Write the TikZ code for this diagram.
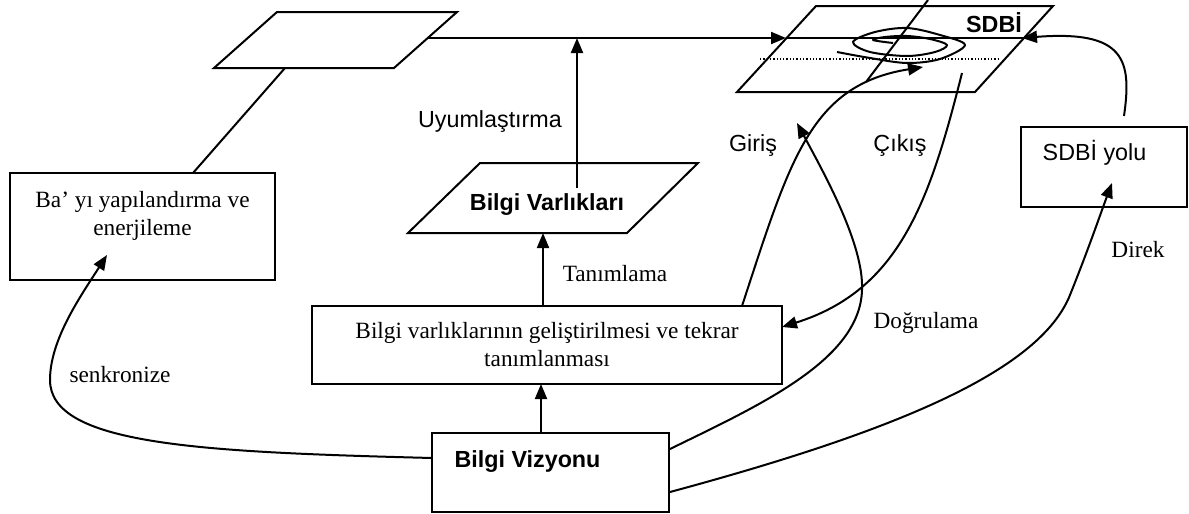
\documentclass[tikz,border=0pt]{standalone}
\usepackage{fontspec}
\setmainfont{Liberation Serif}
\newfontfamily\arialfont{Liberation Sans}
\usetikzlibrary{arrows.meta,calc}

\begin{document}
\begin{tikzpicture}[x=1pt,y=-1pt,
  every node/.style={font=\fontsize{23.3}{28}\selectfont, inner sep=0pt},
  box/.style={draw, line width=2pt, rectangle, inner sep=0pt},
  sans/.style={font=\fontsize{23.3}{28}\selectfont\arialfont},
  sansbold/.style={font=\fontsize{23.3}{28}\selectfont\arialfont\bfseries},
  link/.style={line width=2pt},
  flow/.style={line width=2pt, -{Triangle[length=15pt,width=12pt]}},
  plane/.style={draw, line width=2pt, line join=miter},
]
\useasboundingbox (0,0) rectangle (1189,514);

% ---------- boxes ----------
\node[box, minimum width=265pt, minimum height=107pt] (ba) at (142.5,226.5) {};
\node[align=center] (ba-t) at (142.5,215.5) {Ba’ yı yapılandırma ve\\enerjileme};

\node[box, minimum width=470pt, minimum height=78pt, align=center] (mid) at (547,345)
  {Bilgi varlıklarının geliştirilmesi ve tekrar\\tanımlanması};

\node[box, minimum width=237pt, minimum height=79pt] (vis) at (550.5,472.5) {};
\node[sansbold, anchor=base] (vis-t) at (527.5,467) {Bilgi Vizyonu};

\node[box, minimum width=166pt, minimum height=80pt] (yol) at (1104,167) {};
\node[sans, anchor=base] (yol-t) at (1094.5,160) {SDBİ yolu};

% ---------- planes ----------
\coordinate (pa1) at (277,12);  \coordinate (pa2) at (457,12);
\coordinate (pa3) at (394,68);  \coordinate (pa4) at (214,68);
\draw[plane] (pa1)--(pa2)--(pa3)--(pa4)--cycle;

\coordinate (pb1) at (480,163); \coordinate (pb2) at (698,163);
\coordinate (pb3) at (627,233); \coordinate (pb4) at (408,233);
\draw[plane] (pb1)--(pb2)--(pb3)--(pb4)--cycle;
\node[sansbold, anchor=base] (bv-t) at (547,210) {Bilgi Varlıkları};

\coordinate (pc1) at (816,6);   \coordinate (pc2) at (1053,6);
\coordinate (pc3) at (975,92);  \coordinate (pc4) at (737,92);
\draw[plane] (pc1)--(pc2)--(pc3)--(pc4)--cycle;
\node[sansbold, anchor=base] (sdbi-t) at (994,32) {SDBİ};

% middle layer of the SDBİ plane
\coordinate (pc-left) at (786,38);
\coordinate (pc-right) at (1024,38);
\draw[link] (pc-left) -- (pc-right);
\coordinate (dot-l) at (760,59);
\coordinate (dot-r) at (998,59);
\draw[line width=1.3pt, dotted] (dot-l) -- (dot-r);

% spiral on the plane
\draw[line width=2pt, line join=round] plot[smooth, tension=0.55] coordinates {
  (837,52) (870,58) (907,63) (940,59) (965,45) (940,35) (907,28) (875,32)
  (853,42) (870,52) (907,56) (935,52) (947,45) (930,39) (907,36) (885,37)
  (873,40) (893,43)};

% ---------- connector end points ----------
\coordinate (ba-top) at (193,173);
\coordinate (pa-bot) at (285,68);
\coordinate (pa-right) at (427,38);
\coordinate (bv-top) at (577,188);
\coordinate (bv-up) at (577,38);
\coordinate (mid-top) at (543,306);
\coordinate (pb-bot) at (543,233);
\coordinate (vis-top) at (541,433);
\coordinate (mid-bot) at (541,384);
\coordinate (vis-w) at (432,458);
\coordinate (ba-in) at (107,255);
\coordinate (vis-e1) at (670,449);
\coordinate (vis-e2) at (670,492);
\coordinate (dog-tip) at (797,123);
\coordinate (cik-start) at (962,73);
\coordinate (mid-e) at (782,327);
\coordinate (gir-start) at (742,306);
\coordinate (gir-tip) at (923,67);
\coordinate (axis-top) at (928,0);
\coordinate (axis-bot) at (866,82);
\coordinate (yol-in) at (1112,183);
\coordinate (yol-top) at (1124,116);
\coordinate (pc-edge) at (1022,38);

% ---------- connectors ----------
\draw[link] (ba-top) -- (pa-bot);
\draw[flow] (pa-right) -- (pc-left);
\draw[flow] (bv-top) -- (bv-up);
\draw[flow] (mid-top) -- (pb-bot);
\draw[flow] (vis-top) -- (mid-bot);

% senkronize
\draw[flow] (vis-w) .. controls (200,452) and (50,445) .. (50,380)
  .. controls (50,340) and (80,297) .. (ba-in);
% Doğrulama
\draw[flow] (vis-e1) .. controls (760,405) and (860,360) .. (862,290)
  .. controls (864,245) and (825,175) .. (dog-tip);
% Çıkış
\draw[flow] (cik-start) .. controls (930,200) and (900,290) .. (mid-e);
% Giriş
\draw[flow] (gir-start) .. controls (790,160) and (810,85) .. (gir-tip);
\draw[link] (axis-top) -- (axis-bot);
% Direk
\draw[flow] (vis-e2) .. controls (900,430) and (1040,370) .. (1070,295)
  .. controls (1090,245) and (1100,215) .. (yol-in);
% SDBİ yolu back to the plane
\draw[flow] (yol-top) .. controls (1132,60) and (1125,30) .. (pc-edge);

% ---------- labels ----------
\node[sans, anchor=base] (l-uyum) at (490,127) {Uyumlaştırma};
\node[anchor=base] (l-tanim) at (615,281) {Tanımlama};
\node[anchor=base] (l-senk) at (120,382) {senkronize};
\node[sans, anchor=base] (l-giris) at (753,151) {Giriş};
\node[sans, anchor=base] (l-cikis) at (900,151) {Çıkış};
\node[anchor=base] (l-dogru) at (926,328) {Doğrulama};
\node[anchor=base] (l-direk) at (1138,257) {Direk};
\end{tikzpicture}
\end{document}
